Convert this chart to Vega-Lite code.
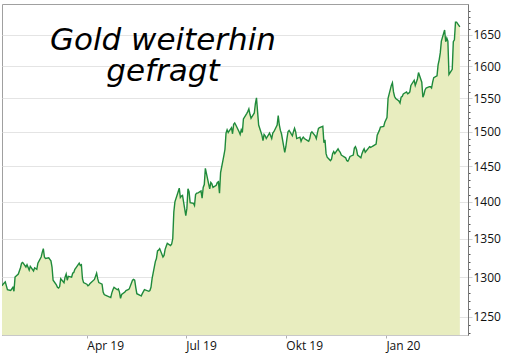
{
  "$schema": "https://vega.github.io/schema/vega-lite/v6.json",
  "width": 466,
  "height": 331,
  "autosize": "none",
  "padding": {"left": 2, "top": 4, "right": 38, "bottom": 22},
  "background": "white",
  "config": {
    "view": {"stroke": "#a0a0a0", "strokeWidth": 1},
    "axis": {"labelFont": "Open Sans", "labelFontSize": 12, "labelColor": "#111111"}
  },
  "data": {"values": [
    {"d": "2019-01-13", "v": 1289}, {"d": "2019-01-14", "v": 1291}, {"d": "2019-01-16", "v": 1294}, {"d": "2019-01-18", "v": 1284},
    {"d": "2019-01-21", "v": 1283}, {"d": "2019-01-23", "v": 1287}, {"d": "2019-01-24", "v": 1282}, {"d": "2019-01-25", "v": 1300},
    {"d": "2019-01-28", "v": 1304}, {"d": "2019-01-30", "v": 1312}, {"d": "2019-01-31", "v": 1318}, {"d": "2019-02-01", "v": 1319},
    {"d": "2019-02-04", "v": 1313}, {"d": "2019-02-05", "v": 1316}, {"d": "2019-02-07", "v": 1309}, {"d": "2019-02-08", "v": 1314},
    {"d": "2019-02-11", "v": 1308}, {"d": "2019-02-12", "v": 1312}, {"d": "2019-02-14", "v": 1310}, {"d": "2019-02-15", "v": 1318},
    {"d": "2019-02-18", "v": 1326}, {"d": "2019-02-19", "v": 1332}, {"d": "2019-02-20", "v": 1337}, {"d": "2019-02-21", "v": 1326},
    {"d": "2019-02-22", "v": 1324}, {"d": "2019-02-25", "v": 1325}, {"d": "2019-02-26", "v": 1323}, {"d": "2019-02-27", "v": 1321},
    {"d": "2019-02-28", "v": 1313}, {"d": "2019-03-01", "v": 1296}, {"d": "2019-03-04", "v": 1290}, {"d": "2019-03-05", "v": 1287},
    {"d": "2019-03-06", "v": 1286}, {"d": "2019-03-07", "v": 1288}, {"d": "2019-03-08", "v": 1298}, {"d": "2019-03-11", "v": 1293},
    {"d": "2019-03-12", "v": 1300}, {"d": "2019-03-13", "v": 1304}, {"d": "2019-03-14", "v": 1296}, {"d": "2019-03-15", "v": 1301},
    {"d": "2019-03-18", "v": 1300}, {"d": "2019-03-19", "v": 1305}, {"d": "2019-03-20", "v": 1306}, {"d": "2019-03-21", "v": 1310},
    {"d": "2019-03-22", "v": 1312}, {"d": "2019-03-25", "v": 1318}, {"d": "2019-03-26", "v": 1315}, {"d": "2019-03-27", "v": 1316},
    {"d": "2019-03-28", "v": 1298}, {"d": "2019-03-29", "v": 1293}, {"d": "2019-04-01", "v": 1291}, {"d": "2019-04-02", "v": 1289},
    {"d": "2019-04-03", "v": 1290}, {"d": "2019-04-04", "v": 1292}, {"d": "2019-04-08", "v": 1297}, {"d": "2019-04-10", "v": 1305},
    {"d": "2019-04-11", "v": 1298}, {"d": "2019-04-12", "v": 1293}, {"d": "2019-04-15", "v": 1291}, {"d": "2019-04-16", "v": 1281},
    {"d": "2019-04-17", "v": 1278}, {"d": "2019-04-18", "v": 1277}, {"d": "2019-04-23", "v": 1274}, {"d": "2019-04-24", "v": 1280},
    {"d": "2019-04-25", "v": 1284}, {"d": "2019-04-26", "v": 1287}, {"d": "2019-04-29", "v": 1284}, {"d": "2019-04-30", "v": 1285},
    {"d": "2019-05-01", "v": 1281}, {"d": "2019-05-02", "v": 1273}, {"d": "2019-05-03", "v": 1278}, {"d": "2019-05-06", "v": 1281},
    {"d": "2019-05-07", "v": 1283}, {"d": "2019-05-09", "v": 1284}, {"d": "2019-05-10", "v": 1285}, {"d": "2019-05-13", "v": 1296},
    {"d": "2019-05-14", "v": 1297}, {"d": "2019-05-15", "v": 1296}, {"d": "2019-05-16", "v": 1287}, {"d": "2019-05-17", "v": 1279},
    {"d": "2019-05-20", "v": 1277}, {"d": "2019-05-21", "v": 1276}, {"d": "2019-05-22", "v": 1279}, {"d": "2019-05-24", "v": 1284},
    {"d": "2019-05-28", "v": 1282}, {"d": "2019-05-29", "v": 1283}, {"d": "2019-05-30", "v": 1287}, {"d": "2019-05-31", "v": 1298},
    {"d": "2019-06-03", "v": 1320}, {"d": "2019-06-04", "v": 1324}, {"d": "2019-06-05", "v": 1334}, {"d": "2019-06-06", "v": 1335},
    {"d": "2019-06-07", "v": 1337}, {"d": "2019-06-10", "v": 1326}, {"d": "2019-06-11", "v": 1328}, {"d": "2019-06-12", "v": 1336},
    {"d": "2019-06-13", "v": 1340}, {"d": "2019-06-14", "v": 1344}, {"d": "2019-06-17", "v": 1341}, {"d": "2019-06-18", "v": 1343},
    {"d": "2019-06-19", "v": 1350}, {"d": "2019-06-20", "v": 1386}, {"d": "2019-06-21", "v": 1400}, {"d": "2019-06-24", "v": 1414},
    {"d": "2019-06-25", "v": 1419}, {"d": "2019-06-26", "v": 1406}, {"d": "2019-06-27", "v": 1408}, {"d": "2019-06-28", "v": 1409},
    {"d": "2019-07-01", "v": 1381}, {"d": "2019-07-02", "v": 1391}, {"d": "2019-07-03", "v": 1418}, {"d": "2019-07-04", "v": 1414},
    {"d": "2019-07-05", "v": 1399}, {"d": "2019-07-08", "v": 1398}, {"d": "2019-07-09", "v": 1395}, {"d": "2019-07-10", "v": 1410},
    {"d": "2019-07-11", "v": 1412}, {"d": "2019-07-12", "v": 1412}, {"d": "2019-07-15", "v": 1415}, {"d": "2019-07-16", "v": 1405},
    {"d": "2019-07-17", "v": 1420}, {"d": "2019-07-18", "v": 1424}, {"d": "2019-07-19", "v": 1447}, {"d": "2019-07-22", "v": 1425},
    {"d": "2019-07-23", "v": 1418}, {"d": "2019-07-24", "v": 1427}, {"d": "2019-07-25", "v": 1425}, {"d": "2019-07-26", "v": 1420},
    {"d": "2019-07-29", "v": 1423}, {"d": "2019-07-30", "v": 1427}, {"d": "2019-07-31", "v": 1428}, {"d": "2019-08-01", "v": 1412},
    {"d": "2019-08-02", "v": 1441}, {"d": "2019-08-05", "v": 1465}, {"d": "2019-08-06", "v": 1474}, {"d": "2019-08-07", "v": 1498},
    {"d": "2019-08-08", "v": 1503}, {"d": "2019-08-09", "v": 1499}, {"d": "2019-08-12", "v": 1506}, {"d": "2019-08-13", "v": 1497},
    {"d": "2019-08-14", "v": 1511}, {"d": "2019-08-15", "v": 1513}, {"d": "2019-08-16", "v": 1510}, {"d": "2019-08-19", "v": 1500},
    {"d": "2019-08-20", "v": 1496}, {"d": "2019-08-21", "v": 1503}, {"d": "2019-08-22", "v": 1499}, {"d": "2019-08-23", "v": 1519},
    {"d": "2019-08-26", "v": 1527}, {"d": "2019-08-27", "v": 1530}, {"d": "2019-08-28", "v": 1534}, {"d": "2019-08-29", "v": 1526},
    {"d": "2019-08-30", "v": 1520}, {"d": "2019-09-02", "v": 1528}, {"d": "2019-09-03", "v": 1542}, {"d": "2019-09-04", "v": 1551},
    {"d": "2019-09-05", "v": 1530}, {"d": "2019-09-06", "v": 1510}, {"d": "2019-09-09", "v": 1495}, {"d": "2019-09-10", "v": 1487},
    {"d": "2019-09-11", "v": 1496}, {"d": "2019-09-12", "v": 1494}, {"d": "2019-09-13", "v": 1490}, {"d": "2019-09-16", "v": 1498},
    {"d": "2019-09-17", "v": 1494}, {"d": "2019-09-18", "v": 1490}, {"d": "2019-09-19", "v": 1498}, {"d": "2019-09-20", "v": 1500},
    {"d": "2019-09-23", "v": 1510}, {"d": "2019-09-24", "v": 1524}, {"d": "2019-09-25", "v": 1510}, {"d": "2019-09-26", "v": 1502},
    {"d": "2019-09-27", "v": 1497}, {"d": "2019-09-30", "v": 1470}, {"d": "2019-10-01", "v": 1478}, {"d": "2019-10-02", "v": 1490},
    {"d": "2019-10-03", "v": 1500}, {"d": "2019-10-04", "v": 1502}, {"d": "2019-10-07", "v": 1494}, {"d": "2019-10-08", "v": 1500},
    {"d": "2019-10-09", "v": 1505}, {"d": "2019-10-10", "v": 1500}, {"d": "2019-10-11", "v": 1490}, {"d": "2019-10-14", "v": 1492},
    {"d": "2019-10-15", "v": 1486}, {"d": "2019-10-16", "v": 1490}, {"d": "2019-10-17", "v": 1492}, {"d": "2019-10-18", "v": 1490},
    {"d": "2019-10-21", "v": 1487}, {"d": "2019-10-22", "v": 1486}, {"d": "2019-10-23", "v": 1490}, {"d": "2019-10-24", "v": 1498},
    {"d": "2019-10-25", "v": 1500}, {"d": "2019-10-28", "v": 1494}, {"d": "2019-10-29", "v": 1490}, {"d": "2019-10-30", "v": 1498},
    {"d": "2019-10-31", "v": 1505}, {"d": "2019-11-01", "v": 1506}, {"d": "2019-11-04", "v": 1508}, {"d": "2019-11-05", "v": 1484},
    {"d": "2019-11-06", "v": 1488}, {"d": "2019-11-07", "v": 1468}, {"d": "2019-11-08", "v": 1463}, {"d": "2019-11-11", "v": 1458},
    {"d": "2019-11-12", "v": 1460}, {"d": "2019-11-13", "v": 1468}, {"d": "2019-11-14", "v": 1471}, {"d": "2019-11-15", "v": 1468},
    {"d": "2019-11-18", "v": 1475}, {"d": "2019-11-19", "v": 1472}, {"d": "2019-11-20", "v": 1470}, {"d": "2019-11-21", "v": 1466},
    {"d": "2019-11-22", "v": 1465}, {"d": "2019-11-25", "v": 1462}, {"d": "2019-11-26", "v": 1458}, {"d": "2019-11-27", "v": 1457},
    {"d": "2019-11-28", "v": 1460}, {"d": "2019-11-29", "v": 1464}, {"d": "2019-12-02", "v": 1466}, {"d": "2019-12-03", "v": 1476},
    {"d": "2019-12-04", "v": 1478}, {"d": "2019-12-05", "v": 1474}, {"d": "2019-12-06", "v": 1466}, {"d": "2019-12-09", "v": 1462},
    {"d": "2019-12-10", "v": 1468}, {"d": "2019-12-11", "v": 1472}, {"d": "2019-12-12", "v": 1475}, {"d": "2019-12-13", "v": 1470},
    {"d": "2019-12-16", "v": 1476}, {"d": "2019-12-17", "v": 1478}, {"d": "2019-12-18", "v": 1477}, {"d": "2019-12-19", "v": 1478},
    {"d": "2019-12-20", "v": 1479}, {"d": "2019-12-23", "v": 1482}, {"d": "2019-12-24", "v": 1495}, {"d": "2019-12-26", "v": 1502},
    {"d": "2019-12-27", "v": 1507}, {"d": "2019-12-30", "v": 1508}, {"d": "2019-12-31", "v": 1514}, {"d": "2020-01-02", "v": 1521},
    {"d": "2020-01-03", "v": 1550}, {"d": "2020-01-06", "v": 1570}, {"d": "2020-01-07", "v": 1574}, {"d": "2020-01-08", "v": 1560},
    {"d": "2020-01-09", "v": 1553}, {"d": "2020-01-10", "v": 1550}, {"d": "2020-01-13", "v": 1546}, {"d": "2020-01-14", "v": 1543},
    {"d": "2020-01-15", "v": 1552}, {"d": "2020-01-16", "v": 1553}, {"d": "2020-01-17", "v": 1557}, {"d": "2020-01-20", "v": 1560},
    {"d": "2020-01-21", "v": 1557}, {"d": "2020-01-22", "v": 1558}, {"d": "2020-01-23", "v": 1560}, {"d": "2020-01-24", "v": 1570},
    {"d": "2020-01-27", "v": 1578}, {"d": "2020-01-28", "v": 1570}, {"d": "2020-01-29", "v": 1575}, {"d": "2020-01-30", "v": 1580},
    {"d": "2020-01-31", "v": 1590}, {"d": "2020-02-03", "v": 1575}, {"d": "2020-02-04", "v": 1552}, {"d": "2020-02-05", "v": 1556},
    {"d": "2020-02-06", "v": 1563}, {"d": "2020-02-07", "v": 1566}, {"d": "2020-02-10", "v": 1568}, {"d": "2020-02-11", "v": 1568},
    {"d": "2020-02-12", "v": 1566}, {"d": "2020-02-13", "v": 1575}, {"d": "2020-02-14", "v": 1582}, {"d": "2020-02-17", "v": 1585},
    {"d": "2020-02-18", "v": 1602}, {"d": "2020-02-19", "v": 1610}, {"d": "2020-02-20", "v": 1621}, {"d": "2020-02-21", "v": 1640},
    {"d": "2020-02-24", "v": 1658}, {"d": "2020-02-25", "v": 1639}, {"d": "2020-02-26", "v": 1645}, {"d": "2020-02-27", "v": 1640},
    {"d": "2020-02-28", "v": 1587}, {"d": "2020-03-02", "v": 1595}, {"d": "2020-03-03", "v": 1639}, {"d": "2020-03-04", "v": 1642},
    {"d": "2020-03-05", "v": 1671}, {"d": "2020-03-06", "v": 1671}, {"d": "2020-03-09", "v": 1663}
  ]},
  "layer": [
    {
      "mark": {"type": "area", "color": "#e8edbf", "clip": true},
      "encoding": {
        "x": {
          "field": "d", "type": "temporal",
          "scale": {"type": "utc", "domain": [{"year": 2019, "month": 1, "date": 13, "utc": true}, {"year": 2020, "month": 3, "date": 16, "hours": 12, "utc": true}]},
          "axis": {
            "title": null, "grid": false,
            "values": [{"year": 2019, "month": 4, "date": 1, "utc": true}, {"year": 2019, "month": 7, "date": 1, "utc": true}, {"year": 2019, "month": 10, "date": 1, "utc": true}, {"year": 2020, "month": 1, "date": 1, "utc": true}],
            "labelExpr": "['Jan','Feb','Mär','Apr','Mai','Jun','Jul','Aug','Sep','Okt','Nov','Dez'][utcmonth(datum.value)] + ' ' + utcFormat(datum.value, '%y')",
            "labelAlign": "left", "labelPadding": 2, "tickSize": 3, "tickColor": "#b0b0b0",
            "domainColor": "#c8c8c8", "labelOverlap": false, "labelFlush": false
          }
        },
        "y": {
          "field": "v", "type": "quantitative",
          "scale": {"type": "log", "domain": [1228, 1701], "nice": false, "zero": false, "clamp": true},
          "axis": {
            "title": null, "orient": "right",
            "values": [1230, 1240, 1250, 1260, 1270, 1280, 1290, 1300, 1310, 1320, 1330, 1340, 1350, 1360, 1370, 1380, 1390, 1400, 1410, 1420, 1430, 1440, 1450, 1460, 1470, 1480, 1490, 1500, 1510, 1520, 1530, 1540, 1550, 1560, 1570, 1580, 1590, 1600, 1610, 1620, 1630, 1640, 1650, 1660, 1670, 1680, 1690],
            "labelExpr": "datum.value % 50 === 0 ? format(datum.value, 'd') : ''",
            "labelOverlap": false, "labelFlush": false, "labelPadding": 1,
            "grid": true, "gridColor": "#e4e4e4",
            "gridOpacity": {"condition": {"test": "datum.value % 50 === 0", "value": 1}, "value": 0},
            "tickSize": {"condition": {"test": "datum.value % 50 === 0", "value": 4}, "value": 2},
            "tickColor": {"condition": {"test": "datum.value % 50 === 0", "value": "#d0d0d0"}, "value": "#555555"},
            "domainColor": "#777777"
          }
        },
        "y2": {"datum": 1228}
      }
    },
    {
      "mark": {"type": "line", "color": "#1f8a3b", "strokeWidth": 1.4, "clip": true},
      "encoding": {
        "x": {"field": "d", "type": "temporal"},
        "y": {"field": "v", "type": "quantitative"}
      }
    },
    {
      "data": {"values": [{"dt": "2019-06-10", "val": 1626}]},
      "mark": {"type": "text", "text": "Gold weiterhin\ngefragt", "lineBreak": "\n", "font": "DejaVu Sans", "fontStyle": "italic", "fontWeight": 200, "fontSize": 31, "lineHeight": 31, "align": "center", "baseline": "alphabetic", "color": "#000000"},
      "encoding": {
        "x": {"field": "dt", "type": "temporal"},
        "y": {"field": "val", "type": "quantitative"}
      }
    }
  ]
}
